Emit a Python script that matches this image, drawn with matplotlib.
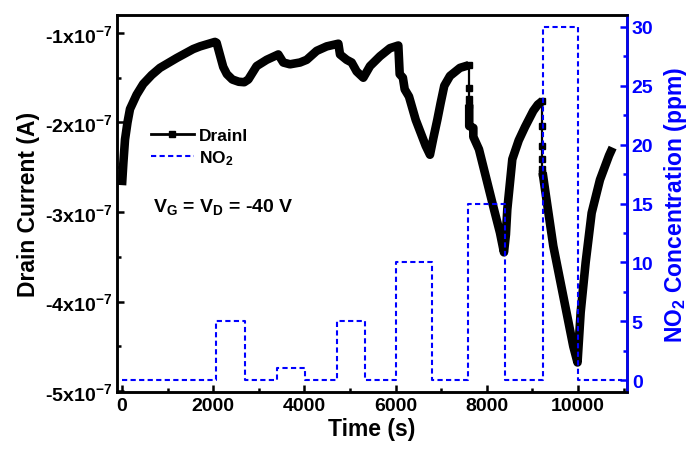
import numpy as np
import matplotlib
matplotlib.use('Agg')
import matplotlib.pyplot as plt
from matplotlib.lines import Line2D
from matplotlib.ticker import MultipleLocator, FuncFormatter

plt.rcParams['font.family'] = ['Liberation Sans', 'DejaVu Sans']
plt.rcParams['font.weight'] = 'bold'
plt.rcParams['axes.labelweight'] = 'bold'
plt.rcParams['mathtext.fontset'] = 'custom'
plt.rcParams['mathtext.rm'] = 'Liberation Sans:bold'
plt.rcParams['mathtext.bf'] = 'Liberation Sans:bold'
plt.rcParams['mathtext.it'] = 'Liberation Sans:bold'
plt.rcParams['mathtext.default'] = 'rm'

# drain current, in units of 1e-7 A
seg_a_t = [0, 30, 66, 120, 175, 320, 465, 650, 833, 1200, 1560, 1711, 2039, 2075, 2150, 2220, 2300,
           2420, 2560, 2680, 2770, 2953, 3173, 3428, 3537, 3684, 3904, 4050, 4270, 4489, 4745, 4781,
           4927, 5037, 5146, 5292, 5439, 5658, 5877, 6060, 6090, 6160, 6200, 6294, 6441, 6660, 6754,
           6830, 6915, 6989, 7068, 7193, 7412, 7605]
seg_a_i = [-2.70, -2.45, -2.19, -2.00, -1.85, -1.69, -1.57, -1.47, -1.39, -1.28, -1.18, -1.15, -1.10,
           -1.11, -1.25, -1.38, -1.46, -1.52, -1.545, -1.55, -1.52, -1.37, -1.30, -1.24, -1.33, -1.35,
           -1.33, -1.30, -1.20, -1.15, -1.12, -1.24, -1.30, -1.33, -1.43, -1.50, -1.37, -1.26, -1.17,
           -1.14, -1.46, -1.50, -1.63, -1.71, -1.97, -2.26, -2.36, -2.17, -1.97, -1.78, -1.59, -1.48,
           -1.39, -1.36]
seg_b_t = [7615, 7615, 7705, 7705, 7829, 8011, 8158, 8289, 8377, 8420, 8450, 8560, 8700, 8838, 9020,
           9120, 9220]
seg_b_i = [-1.80, -2.04, -2.06, -2.16, -2.30, -2.67, -2.97, -3.23, -3.45, -3.25, -2.97, -2.41, -2.20,
           -2.05, -1.87, -1.80, -1.76]
seg_c_t = [9225, 9298, 9459, 9678, 9897, 9990, 10059, 10169, 10300, 10482, 10680, 10760]
seg_c_i = [-2.56, -2.82, -3.38, -3.94, -4.50, -4.68, -4.12, -3.56, -3.01, -2.64, -2.37, -2.28]
jump1_t = [7605, 7605, 7605, 7605]
jump1_i = [-1.36, -1.61, -1.74, -1.80]
jump2_t = [9220, 9220, 9220, 9220, 9220, 9220]
jump2_i = [-1.76, -2.04, -2.26, -2.41, -2.52, -2.56]

# NO2 concentration steps (ppm)
no2_t = [0, 2060, 2060, 2700, 2700, 3405, 3405, 4010, 4010, 4720, 4720, 5330, 5330, 6010, 6010,
         6790, 6790, 7595, 7595, 8400, 8400, 9225, 9225, 9995, 9995, 10965]
no2_c = [0, 0, 5, 5, 0, 0, 1, 1, 0, 0, 5, 5, 0, 0, 10, 10, 0, 0, 15, 15, 0, 0, 30, 30, 0, 0]

fig = plt.figure(figsize=(6.89, 4.52), dpi=100)
ax = fig.add_axes([0.1698, 0.1305, 0.7402, 0.834])
ax2 = ax.twinx()

for t, i in [(seg_a_t, seg_a_i), (seg_b_t, seg_b_i), (seg_c_t, seg_c_i)]:
    ax.plot(t, np.array(i) * 1e-7, color='k', lw=6.2, solid_joinstyle='round', solid_capstyle='butt')
for t, i in [(jump1_t, jump1_i), (jump2_t, jump2_i)]:
    ax.plot(t, np.array(i) * 1e-7, color='k', lw=1.6, marker='s', ms=5)

ax2.plot(no2_t, no2_c, color='blue', lw=1.5, linestyle=(0, (2.5, 1.6)))

ax.set_xlim(-110, 11075)
ax.set_ylim(-5.01e-7, -0.8e-7)
ax2.set_ylim(-1, 31)

ax.xaxis.set_major_locator(MultipleLocator(2000))
ax.xaxis.set_minor_locator(MultipleLocator(1000))
ax.yaxis.set_major_locator(MultipleLocator(1e-7))
ax.yaxis.set_minor_locator(MultipleLocator(0.5e-7))
ax.yaxis.set_major_formatter(FuncFormatter(lambda v, p: '%dx10$^{-7}$' % round(v / 1e-7)))
ax2.yaxis.set_major_locator(MultipleLocator(5))
ax2.yaxis.set_minor_locator(MultipleLocator(2.5))

ax.tick_params(which='both', direction='in', width=1.8, labelsize=14, top=False, right=False)
ax.tick_params(which='major', length=5)
ax.tick_params(which='minor', length=3)
ax2.tick_params(which='both', direction='in', width=1.8, labelsize=14, colors='blue')
ax2.tick_params(which='major', length=5)
ax2.tick_params(which='minor', length=3)

for s in ax.spines.values():
    s.set_linewidth(1.8)
for s in ax2.spines.values():
    s.set_linewidth(1.8)
ax2.spines['right'].set_color('blue')

ax.set_xlabel('Time (s)', fontsize=16.5, fontweight='bold', labelpad=2)
ax.set_ylabel('Drain Current (A)', fontsize=16.5, fontweight='bold', labelpad=4)
ax2.set_ylabel('NO$_2$ Concentration (ppm)', fontsize=16.5, fontweight='bold', color='blue', labelpad=6)

handles = [Line2D([], [], color='k', lw=2, marker='s', ms=4.5),
           Line2D([], [], color='blue', lw=1.5, linestyle=(0, (2.5, 1.6)))]
ax2.legend(handles, ['DrainI', 'NO$_2$'], loc='upper left', bbox_to_anchor=(0.066, 0.70),
           frameon=False, fontsize=12.5, handlelength=2.5, handletextpad=0.3,
           labelspacing=0.3, borderpad=0, borderaxespad=0, numpoints=1)

ax.text(0.0706, 0.481, 'V$_\\mathrm{G}$ = V$_\\mathrm{D}$ = -40 V', transform=ax.transAxes,
        fontsize=14, fontweight='bold', va='baseline')

fig.savefig('out.png', dpi=100)
